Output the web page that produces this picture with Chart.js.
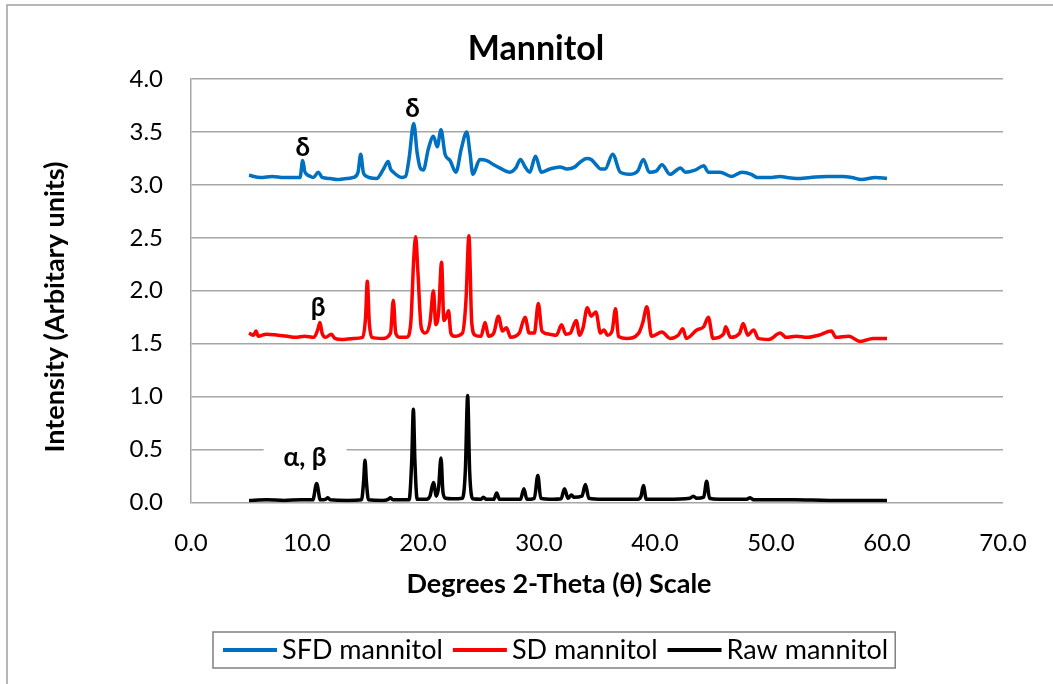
<!DOCTYPE html>
<html>
<head>
<meta charset="utf-8">
<script src="https://cdn.jsdelivr.net/npm/chart.js@4/dist/chart.umd.min.js"></script>
<style>
  html, body { margin: 0; padding: 0; background: #fff; }
  canvas { display: block; }
</style>
</head>
<body>
<canvas id="chart" width="1053" height="684"></canvas>
<script>
// ── data ──
const seriesLabels = ['SFD mannitol', 'SD mannitol', 'Raw mannitol'];
const seriesColors = ['#0070C0', '#FF0000', '#000000'];

const sfdX = [5.0, 6.0, 7.0, 8.0, 9.0, 9.4, 9.63, 9.8, 9.97, 10.3, 10.55, 10.98, 11.3, 12.0, 12.56, 13.4, 14.0, 14.4, 14.63, 14.85,
  15.0, 16.0, 16.6, 17.0, 17.2, 17.44, 18.16, 18.5, 18.8, 19.2, 19.5, 19.8, 20.03, 20.46, 20.9, 21.23, 21.55, 21.9, 22.33, 22.84,
  23.3, 23.77, 24.05, 24.3, 24.9, 25.5, 26.1, 26.6, 27.5, 28.0, 28.4, 28.8, 29.2, 29.7, 30.2, 30.95, 31.8, 32.4, 33.1, 33.5,
  34.1, 34.5, 35.0, 35.3, 35.7, 36.35, 37.0, 37.8, 38.5, 39.0, 39.5, 40.1, 40.6, 41.3, 42.2, 42.6, 43.45, 44.2, 44.6, 45.6,
  46.6, 47.5, 48.3, 48.8, 49.9, 50.8, 51.35, 52.2, 53.4, 54.8, 56.2, 56.95, 57.8, 59.0, 60.0];
const sfdY = [3.09, 3.07, 3.08, 3.07, 3.07, 3.07, 3.23, 3.13, 3.10, 3.08, 3.07, 3.12, 3.07, 3.06, 3.05, 3.06, 3.07, 3.12, 3.29, 3.12,
  3.09, 3.06, 3.15, 3.22, 3.15, 3.12, 3.07, 3.08, 3.25, 3.58, 3.30, 3.15, 3.14, 3.34, 3.46, 3.36, 3.52, 3.29, 3.23, 3.12,
  3.34, 3.50, 3.30, 3.10, 3.24, 3.23, 3.19, 3.16, 3.12, 3.16, 3.24, 3.17, 3.12, 3.27, 3.12, 3.15, 3.17, 3.15, 3.17, 3.21,
  3.25, 3.24, 3.18, 3.15, 3.15, 3.29, 3.12, 3.10, 3.13, 3.24, 3.12, 3.13, 3.19, 3.10, 3.16, 3.12, 3.14, 3.18, 3.12, 3.12,
  3.08, 3.12, 3.10, 3.07, 3.07, 3.08, 3.07, 3.06, 3.07, 3.08, 3.08, 3.07, 3.05, 3.07, 3.06];

const sdX = [5.0, 5.4, 5.6, 5.8, 6.5, 7.5, 8.3, 9.0, 9.8, 10.6, 10.95, 11.12, 11.3, 11.6, 12.1, 12.4, 13.0, 14.0, 14.8, 15.05,
  15.2, 15.37, 15.6, 16.5, 17.2, 17.44, 17.65, 18.0, 18.6, 18.95, 19.2, 19.37, 19.55, 19.85, 20.2, 20.6, 20.9, 21.1, 21.35, 21.6,
  21.8, 22.0, 22.2, 22.4, 22.7, 23.4, 23.7, 23.96, 24.2, 24.5, 25.0, 25.35, 25.65, 26.1, 26.5, 26.85, 27.2, 27.55, 28.3, 28.8,
  29.15, 29.6, 29.94, 30.25, 30.9, 31.5, 31.95, 32.3, 32.7, 33.2, 33.5, 33.8, 34.16, 34.5, 34.9, 35.3, 35.6, 35.9, 36.3, 36.6,
  36.85, 37.56, 38.6, 38.95, 39.3, 39.7, 40.6, 41.3, 42.0, 42.4, 42.7, 43.6, 44.2, 44.6, 45.0, 45.9, 46.1, 46.5, 47.3, 47.6,
  48.0, 48.5, 48.9, 49.8, 50.8, 51.3, 52.2, 53.1, 54.1, 55.2, 55.6, 56.7, 57.7, 58.8, 60.0];
const sdY = [1.60, 1.58, 1.62, 1.57, 1.59, 1.58, 1.57, 1.56, 1.57, 1.56, 1.64, 1.70, 1.60, 1.56, 1.59, 1.55, 1.54, 1.55, 1.56, 1.75,
  2.09, 1.70, 1.56, 1.55, 1.60, 1.91, 1.60, 1.56, 1.56, 1.70, 2.30, 2.51, 2.20, 1.65, 1.60, 1.70, 2.00, 1.68, 1.80, 2.27,
  1.72, 1.75, 1.81, 1.60, 1.57, 1.60, 1.90, 2.52, 1.70, 1.58, 1.57, 1.70, 1.57, 1.60, 1.76, 1.62, 1.65, 1.56, 1.60, 1.75,
  1.60, 1.60, 1.88, 1.62, 1.59, 1.58, 1.68, 1.59, 1.60, 1.72, 1.58, 1.65, 1.84, 1.76, 1.80, 1.60, 1.63, 1.58, 1.62, 1.83,
  1.57, 1.55, 1.60, 1.70, 1.85, 1.57, 1.61, 1.55, 1.58, 1.64, 1.55, 1.63, 1.66, 1.75, 1.55, 1.59, 1.66, 1.56, 1.60, 1.69,
  1.58, 1.63, 1.55, 1.54, 1.60, 1.56, 1.57, 1.56, 1.58, 1.62, 1.56, 1.57, 1.52, 1.55, 1.55];

const rawX = [5.0, 6.5, 8.0, 9.5, 10.5, 10.83, 11.15, 11.6, 11.8, 12.0, 13.5, 14.7, 14.88, 15.0, 15.12, 15.3, 16.5, 17.0, 17.2, 17.4,
  18.8, 19.03, 19.17, 19.3, 19.5, 20.3, 20.6, 20.9, 21.15, 21.35, 21.55, 21.72, 21.95, 22.5, 23.4, 23.65, 23.85, 24.02, 24.3, 25.0,
  25.2, 25.45, 26.1, 26.35, 26.6, 28.4, 28.7, 28.95, 29.6, 29.9, 30.15, 31.2, 31.9, 32.2, 32.5, 32.8, 33.0, 33.7, 34.0, 34.3,
  35.5, 36.5, 38.5, 38.8, 39.0, 39.25, 41.0, 43.0, 43.3, 43.6, 44.2, 44.45, 44.7, 45.5, 47.9, 48.2, 48.5, 52.0, 55.0, 58.0, 60.0];
const rawY = [0.02, 0.025, 0.02, 0.025, 0.025, 0.18, 0.025, 0.03, 0.045, 0.025, 0.02, 0.025, 0.20, 0.40, 0.20, 0.025, 0.02, 0.03, 0.045, 0.025,
  0.025, 0.40, 0.88, 0.40, 0.03, 0.03, 0.06, 0.19, 0.06, 0.15, 0.42, 0.10, 0.04, 0.035, 0.04, 0.30, 1.01, 0.30, 0.035, 0.03,
  0.05, 0.03, 0.03, 0.09, 0.03, 0.03, 0.13, 0.03, 0.04, 0.255, 0.04, 0.03, 0.035, 0.13, 0.04, 0.07, 0.05, 0.06, 0.17, 0.04,
  0.03, 0.03, 0.03, 0.06, 0.16, 0.03, 0.03, 0.04, 0.06, 0.04, 0.05, 0.20, 0.04, 0.03, 0.03, 0.045, 0.025, 0.025, 0.02, 0.02, 0.02];

// peak phase labels (x = 2θ centre, y = text baseline in intensity units)
const annoText = ['δ', 'δ', 'β', 'α, β'];
const annoX = [9.63, 19.1, 10.95, 9.83];
const annoY = [3.27, 3.64, 1.765, 0.345];
const annoBoxed = [false, false, false, true];

const xTicksMax = 70;
const yTicksMax = 4;

const FONT = 'Lato, "Open Sans", sans-serif';
const GRID = '#a6a6a6';

function toPoints(xs, ys) {
  return xs.map((x, i) => ({ x, y: ys[i] }));
}

// Title, axis titles, peak labels, boxed legend and the outer frame
const decorations = {
  id: 'decorations',
  afterDraw(chart) {
    const { ctx, scales } = chart;
    ctx.save();

    // outer chart frame (only left/top edges fall inside the picture)
    ctx.strokeStyle = '#a0a0a0';
    ctx.lineWidth = 1.5;
    ctx.strokeRect(7, 5, 1100, 720);

    ctx.fillStyle = '#000';
    ctx.textAlign = 'center';
    ctx.textBaseline = 'alphabetic';

    ctx.font = `bold 34px ${FONT}`;
    ctx.fillText('Mannitol', 536, 60);

    ctx.font = `bold 27px ${FONT}`;
    ctx.fillText('Degrees 2-Theta (θ) Scale', 559, 593);

    ctx.save();
    ctx.translate(64, 307);
    ctx.rotate(-Math.PI / 2);
    ctx.fillText('Intensity (Arbitary units)', 0, 0);
    ctx.restore();

    // peak labels
    ctx.font = `bold 26px ${FONT}`;
    annoText.forEach((t, i) => {
      const px = scales.x.getPixelForValue(annoX[i]);
      const py = scales.y.getPixelForValue(annoY[i]);
      if (annoBoxed[i]) {
        const w = ctx.measureText(t).width;
        ctx.fillStyle = '#fff';
        ctx.fillRect(px - w / 2 - 20, py - 24, w + 40, 32);
        ctx.fillStyle = '#000';
      }
      ctx.fillText(t, px, py);
    });

    // legend
    ctx.font = `27px ${FONT}`;
    ctx.textAlign = 'left';
    const ly = 650;
    let lx = 223;
    chart.data.datasets.forEach((ds) => {
      ctx.strokeStyle = ds.borderColor;
      ctx.lineWidth = 4;
      ctx.beginPath();
      ctx.moveTo(lx, ly);
      ctx.lineTo(lx + 54, ly);
      ctx.stroke();
      ctx.fillStyle = '#000';
      ctx.fillText(ds.label, lx + 59, 659);
      lx += 59 + ctx.measureText(ds.label).width + 10;
    });
    ctx.strokeStyle = '#808080';
    ctx.lineWidth = 1.5;
    ctx.strokeRect(213, 632, lx - 213 - 3, 36);

    ctx.restore();
  },
};

new Chart(document.getElementById('chart'), {
  type: 'line',
  data: {
    datasets: [
      { label: seriesLabels[0], data: toPoints(sfdX, sfdY), borderColor: seriesColors[0] },
      { label: seriesLabels[1], data: toPoints(sdX, sdY), borderColor: seriesColors[1] },
      { label: seriesLabels[2], data: toPoints(rawX, rawY), borderColor: seriesColors[2] },
    ].map((d) => ({
      ...d,
      backgroundColor: d.borderColor,
      borderWidth: 3.5,
      pointRadius: 0,
      cubicInterpolationMode: 'monotone',
      fill: false,
    })),
  },
  options: {
    responsive: false,
    animation: false,
    layout: { padding: { top: 79, right: 50, left: 0, bottom: 0 } },
    scales: {
      x: {
        type: 'linear',
        min: 0,
        max: xTicksMax,
        afterFit: (s) => { s.height = 684 - 502.5; },
        grid: { display: false, drawTicks: false },
        border: { display: false },
        ticks: {
          stepSize: 10,
          padding: 26,
          color: '#000',
          font: { family: FONT, size: 24 },
          maxRotation: 0,
          callback: (v) => v.toFixed(1),
        },
      },
      y: {
        min: 0,
        max: yTicksMax,
        afterFit: (s) => { s.width = 191; },
        grid: { color: GRID, lineWidth: 1.5, drawTicks: false },
        border: { display: true, color: GRID, width: 1.5 },
        ticks: {
          stepSize: 0.5,
          padding: 28,
          color: '#000',
          font: { family: FONT, size: 24 },
          callback: (v) => v.toFixed(1),
        },
      },
    },
    plugins: {
      legend: { display: false },
      tooltip: { enabled: false },
    },
  },
  plugins: [decorations],
});
</script>
</body>
</html>
